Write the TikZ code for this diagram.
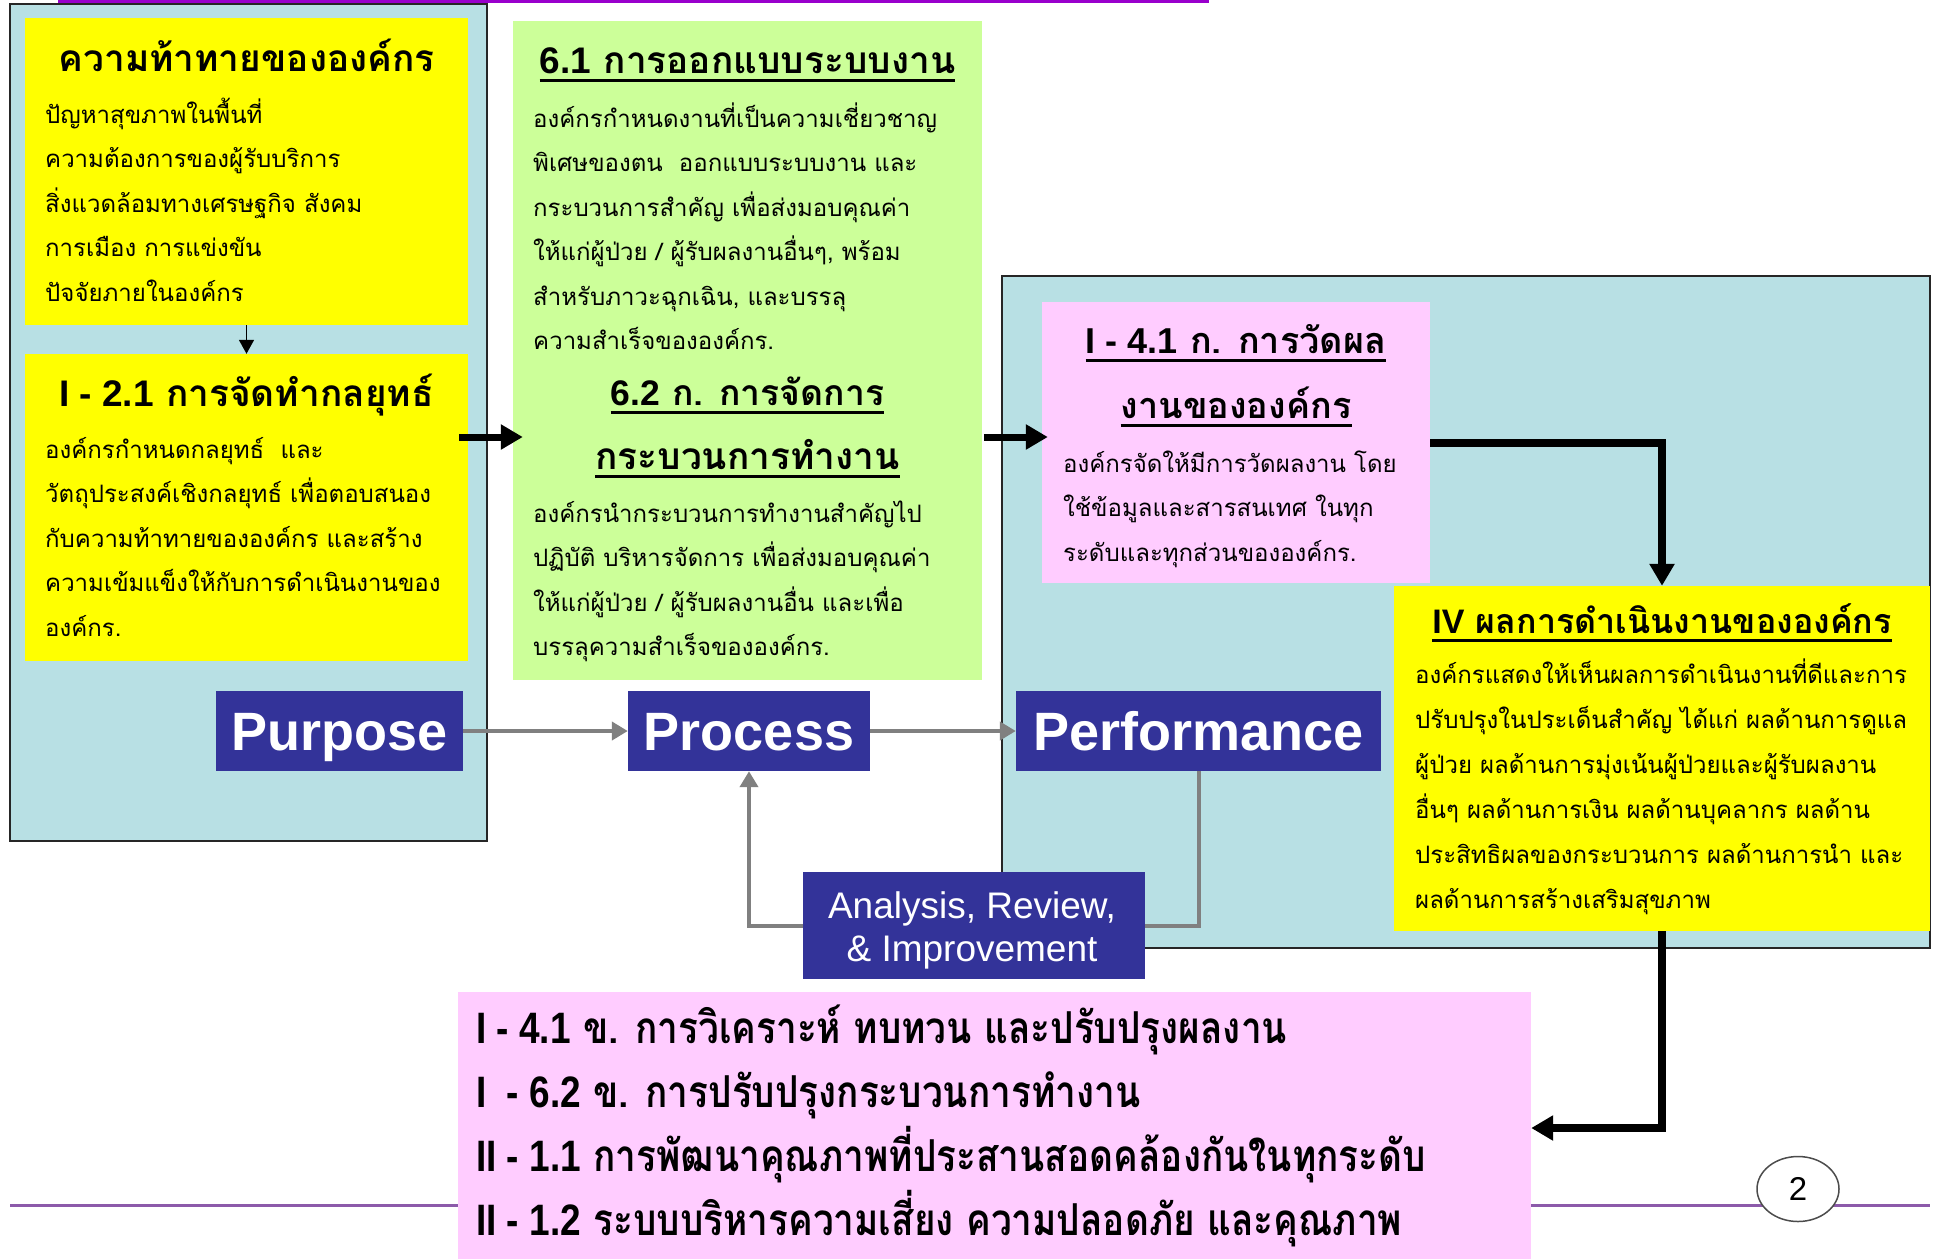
\documentclass[tikz,border=0pt]{standalone}
\usepackage{fontspec}
\newfontfamily\thai[Script=Thai]{Loma}
\newfontfamily\thaic[Script=Thai,FakeStretch=0.84]{Loma}
\newfontfamily\lat{Liberation Sans}
\newfontfamily\latc[FakeStretch=0.84]{Liberation Sans}
\usetikzlibrary{arrows.meta,shapes.geometric}
\definecolor{lblue}{RGB}{184,224,228}
\definecolor{yel}{RGB}{255,255,0}
\definecolor{grn}{RGB}{204,255,153}
\definecolor{pnk}{RGB}{255,204,255}
\definecolor{dblue}{RGB}{51,51,153}
\definecolor{purp}{RGB}{153,0,204}
\definecolor{lpurp}{RGB}{140,90,170}
\definecolor{garr}{RGB}{128,128,128}
\begin{document}
\begin{tikzpicture}[x=1pt,y=-1pt,
  panel/.style={draw=black!85,line width=1.5pt,fill=lblue,inner sep=0pt},
  fbox/.style={draw=none,inner sep=0pt},
  bluebox/.style={fill=dblue,inner sep=0pt,text=white,font=\lat\bfseries\fontsize{54}{54}\selectfont,text height=39pt,text depth=0pt},
  bodyt/.style={anchor=base west,inner sep=0pt,font=\thai\fontsize{24}{24}\selectfont},
  headt/.style={anchor=base,inner sep=0pt,font=\thai\bfseries\fontsize{37}{37}\selectfont},
  bott/.style={anchor=base west,inner sep=0pt,font=\thaic\bfseries\fontsize{44}{44}\selectfont},
  uline/.style={line width=3pt},
  thickarr/.style={line width=7pt,-{Triangle[length=22pt,width=24pt]}},
  thinarr/.style={line width=1.5pt,-{Triangle[length=14pt,width=15pt]}},
  grayarr/.style={draw=garr,line width=4pt,-{Triangle[length=16pt,width=18pt]}},
  grayline/.style={draw=garr,line width=4pt}
]
\useasboundingbox (0,0) rectangle (1934,1259);
\fill[white] (0,0) rectangle (1934,1259);
% decorative lines
\draw[purp,line width=3pt] (58,1.5) -- (1209,1.5);
\draw[lpurp,line width=3pt] (10,1205) -- (1930,1205);

% panels
\node[panel,minimum width=477pt,minimum height=837pt] (lpanel) at (248.5,422.5) {};
\node[panel,minimum width=928pt,minimum height=672pt] (rpanel) at (1466,612) {};

% boxes
\node[fbox,fill=yel,minimum width=443pt,minimum height=307pt] (y1) at (246.5,171.5) {};
\node[fbox,fill=yel,minimum width=443pt,minimum height=307pt] (y2) at (246.5,507.5) {};
\node[fbox,fill=grn,minimum width=469pt,minimum height=659pt] (gr) at (747.5,350.5) {};
\node[fbox,fill=pnk,minimum width=388pt,minimum height=281pt] (pt) at (1236,442.5) {};
\node[fbox,fill=yel,minimum width=536pt,minimum height=345pt] (y3) at (1662,758.5) {};
\node[fbox,fill=pnk,minimum width=1073pt,minimum height=267pt] (pb) at (994.5,1125.5) {};

% blue boxes
\node[bluebox,minimum width=247pt,minimum height=80pt] (purpose) at (339.5,731) {Purpose};
\node[bluebox,minimum width=242pt,minimum height=80pt] (process) at (749,731) {Process};
\node[bluebox,minimum width=365pt,minimum height=80pt] (perf) at (1198.5,731) {Performance};
\node[fill=dblue,inner sep=0pt,minimum width=342pt,minimum height=107pt] (anl) at (974,925.5) {};
\node[inner sep=0pt,text=white,align=center,font=\lat\fontsize{37}{43}\selectfont] (anlt) at (972,930) {Analysis, Review,\\ \& Improvement};

% page number
\node[ellipse,draw=black!70,line width=1.5pt,fill=white,minimum width=82pt,minimum height=65pt,inner sep=0pt,font=\lat\fontsize{33}{33}\selectfont] (pg) at (1798,1189) {2};

% connectors
\draw[thinarr] (y1.south) -- (y2.north);
\draw[thickarr] ([xshift=-9pt]y2.east |- 0,437) -- ([xshift=10pt]gr.west |- 0,437);
\draw[thickarr] ([xshift=2pt]gr.east |- 0,437) -- ([xshift=6pt]pt.west |- 0,437);
\draw[line width=8pt,-{Triangle[length=22pt,width=24pt]}] (pt.east |- 0,443) -| (y3.north);
\draw[line width=8pt,-{Triangle[length=22pt,width=24pt]}] (y3.south) |- (pb.east |- 0,1128);
\draw[grayarr] (purpose.east) -- (process.west);
\draw[grayarr] (process.east) -- (perf.west);
\draw[grayline] (perf.south) |- (anl.east);
\draw[grayarr] (anl.west) -| (process.south);

% yellow 1
\node[headt] (y1h) at (246.5,71) {ความท้าทายขององค์กร};
\foreach \t [count=\i] in {ปัญหาสุขภาพในพื้นที่,ความต้องการของผู้รับบริการ,สิ่งแวดล้อมทางเศรษฐกิจ สังคม,การเมือง การแข่งขัน,ปัจจัยภายในองค์กร}
  \node[bodyt] (y1l\i) at (45,{123+44.5*(\i-1)}) {\t};

% yellow 2
\node[headt] (y2h) at (246.5,406) {{\lat\bfseries I - 2.1} การจัดทำกลยุทธ์};
\foreach \t [count=\i] in {องค์กรกำหนดกลยุทธ์\ \ และ,วัตถุประสงค์เชิงกลยุทธ์ เพื่อตอบสนอง,กับความท้าทายขององค์กร และสร้าง,ความเข้มแข็งให้กับการดำเนินงานของ,องค์กร.}
  \node[bodyt] (y2l\i) at (45,{458+44.5*(\i-1)}) {\t};

% green
\node[headt] (g1h) at (747.5,73) {{\lat\bfseries 6.1} การออกแบบระบบงาน};
\draw[uline] ([yshift=-7pt]g1h.base west) -- ([yshift=-7pt]g1h.base east);
\foreach \t [count=\i] in {องค์กรกำหนดงานที่เป็นความเชี่ยวชาญ,พิเศษของตน\ \ ออกแบบระบบงาน และ,กระบวนการสำคัญ เพื่อส่งมอบคุณค่า,{ให้แก่ผู้ป่วย / ผู้รับผลงานอื่นๆ, พร้อม},{สำหรับภาวะฉุกเฉิน, และบรรลุ},ความสำเร็จขององค์กร.}
  \node[bodyt] (g1l\i) at (533,{127+44.5*(\i-1)}) {\t};
\node[headt,font=\thai\bfseries\fontsize{35.5}{35.5}\selectfont] (g2h) at (747.5,405) {{\lat\bfseries 6.2} ก. การจัดการ};
\draw[uline] ([yshift=-7pt]g2h.base west) -- ([yshift=-7pt]g2h.base east);
\node[headt] (g2h2) at (747.5,469) {กระบวนการทำงาน};
\draw[uline] ([yshift=-7pt]g2h2.base west) -- ([yshift=-7pt]g2h2.base east);
\foreach \t [count=\i] in {องค์กรนำกระบวนการทำงานสำคัญไป,ปฏิบัติ บริหารจัดการ เพื่อส่งมอบคุณค่า,ให้แก่ผู้ป่วย / ผู้รับผลงานอื่น และเพื่อ,บรรลุความสำเร็จขององค์กร.}
  \node[bodyt] (g2l\i) at (533,{522+44.5*(\i-1)}) {\t};

% pink top
\node[headt,font=\thai\bfseries\fontsize{36}{36}\selectfont] (pth) at (1236,353) {{\lat\bfseries I - 4.1} ก. การวัดผล};
\draw[uline] ([yshift=-7pt]pth.base west) -- ([yshift=-7pt]pth.base east);
\node[headt,font=\thai\bfseries\fontsize{36}{36}\selectfont] (pth2) at (1236,418) {งานขององค์กร};
\draw[uline] ([yshift=-7pt]pth2.base west) -- ([yshift=-7pt]pth2.base east);
\foreach \t [count=\i] in {องค์กรจัดให้มีการวัดผลงาน โดย,ใช้ข้อมูลและสารสนเทศ ในทุก,ระดับและทุกส่วนขององค์กร.}
  \node[bodyt] (ptl\i) at (1063,{472+44.5*(\i-1)}) {\t};

% yellow 3
\node[headt,font=\thai\bfseries\fontsize{34}{34}\selectfont] (y3h) at (1662,633) {{\lat\bfseries IV} ผลการดำเนินงานขององค์กร};
\draw[uline] ([yshift=-7pt]y3h.base west) -- ([yshift=-7pt]y3h.base east);
\foreach \t [count=\i] in {องค์กรแสดงให้เห็นผลการดำเนินงานที่ดีและการ,ปรับปรุงในประเด็นสำคัญ ได้แก่ ผลด้านการดูแล,ผู้ป่วย ผลด้านการมุ่งเน้นผู้ป่วยและผู้รับผลงาน,อื่นๆ ผลด้านการเงิน ผลด้านบุคลากร ผลด้าน,ประสิทธิผลของกระบวนการ ผลด้านการนำ และ,ผลด้านการสร้างเสริมสุขภาพ}
  \node[bodyt] (y3l\i) at (1415,{683+45*(\i-1)}) {\t};

% pink bottom
\node[bott] (pb1) at (476,1043) {{\latc\bfseries I - 4.1} ข. การวิเคราะห์ ทบทวน และปรับปรุงผลงาน};
\node[bott] (pb2) at (476,1107) {{\latc\bfseries I\ \ - 6.2} ข. การปรับปรุงกระบวนการทำงาน};
\node[bott] (pb3) at (476,1171) {{\latc\bfseries II - 1.1} การพัฒนาคุณภาพที่ประสานสอดคล้องกันในทุกระดับ};
\node[bott] (pb4) at (476,1235) {{\latc\bfseries II - 1.2} ระบบบริหารความเสี่ยง ความปลอดภัย และคุณภาพ};
\end{tikzpicture}
\end{document}
